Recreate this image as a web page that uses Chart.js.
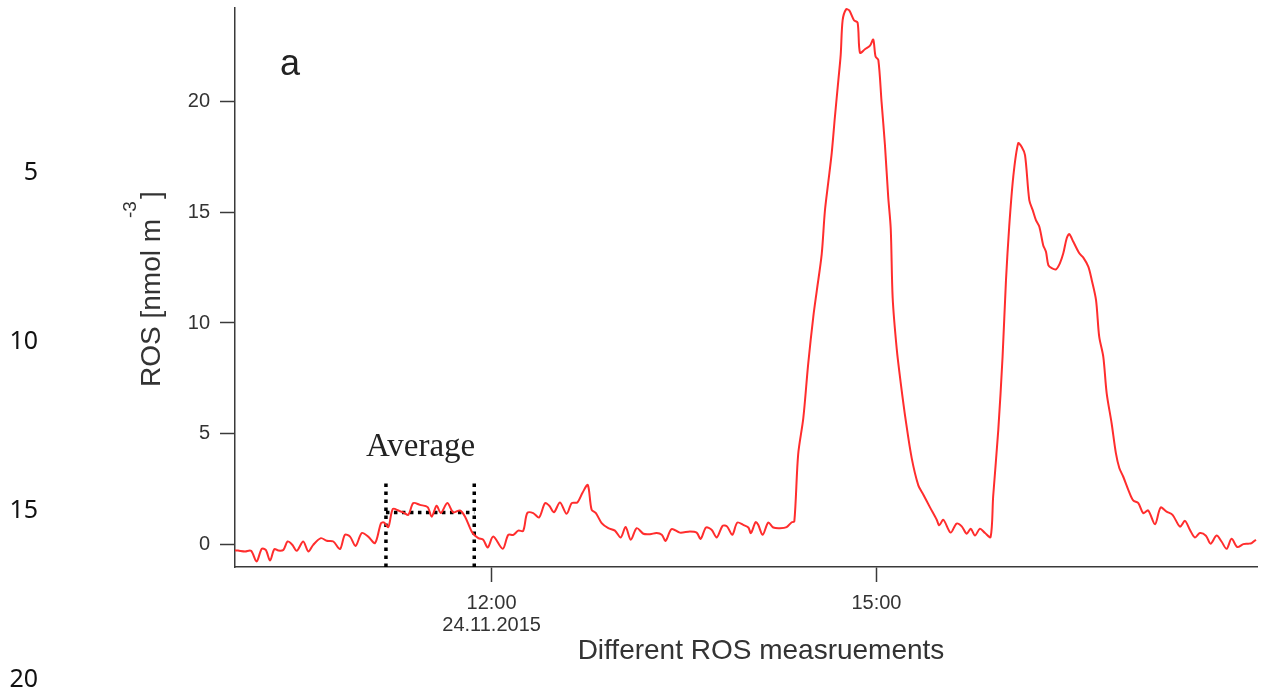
<!DOCTYPE html>
<html>
<head>
<meta charset="utf-8">
<script src="https://cdn.jsdelivr.net/npm/chart.js@4.4.1/dist/chart.umd.min.js"></script>
<style>
    html, body { margin: 0; padding: 0; background: #fff; }
    #wrap { position: relative; width: 1262px; height: 698px; }
</style>
</head>
<body>
<div id="wrap"><canvas id="rosChart" width="1262" height="698"></canvas></div>
<script>
// =======================
// ROS - serie temporal 24.11.2015
// =======================

// minutos desde las 10:00
const minutesSince10 = [
    0.0, 1.4, 4.7, 7.5, 10.1, 12.5, 14.4, 16.4, 18.4, 20.3, 22.6, 24.6, 26.8, 28.9, 31.9, 34.3, 36.6, 40.2, 42.9, 46.0,
    49.1, 51.4, 53.8, 56.4, 59.3, 62.3, 65.5, 68.3, 69.8, 71.7, 73.8, 76.4, 79.2, 81.1, 83.4, 86.5, 90.1, 92.0, 94.3, 96.3,
    99.3, 102.1, 105.2, 107.6, 111.0, 113.8, 116.1, 118.2, 120.8,
    125.2, 127.8, 130.2, 132.5, 134.8, 136.7, 139.5, 142.2, 145.0, 147.0, 149.2, 152.0, 155.1, 157.5, 160.1, 162.6, 165.0,
    166.8, 168.8, 171.5, 174.6, 177.7, 180.4, 182.7, 185.1, 187.9, 191.0, 194.1, 197.2, 199.6, 201.4, 204.2, 208.1, 212.8,
    215.9, 217.8, 220.3, 222.9, 225.3, 228.1, 230.2, 232.6, 234.9, 237.7, 240.1, 241.3, 243.5, 244.7, 246.8, 249.4, 251.8,
    254.9, 258.0, 260.4, 261.6,
    263.4, 265.8, 268.1, 270.5, 272.1, 274.4, 275.9, 277.5, 279.1, 280.6, 282.2, 283.3, 284.2, 285.8, 287.3, 289.5, 291.2,
    292.3, 294.6, 297.0, 298.5, 299.6, 300.9, 302.4, 304.0, 305.5, 306.7, 307.6, 309.5, 311.3, 313.8, 316.5, 319.6, 321.9,
    325.0, 328.2, 329.4, 331.3, 334.7, 337.5, 339.9, 342.2, 344.1, 346.1, 348.4,
    350.8, 353.4, 354.6, 357.0, 359.0, 360.6, 362.1, 364.0, 366.3, 367.9, 369.5, 371.5, 373.1, 374.6, 376.2, 378.0, 379.3,
    380.4, 382.0, 384.0, 385.8, 387.4, 389.0, 390.2, 392.1, 394.9, 396.7, 399.1, 400.7, 402.7, 404.2, 406.1, 407.7, 410.0,
    412.0, 413.6, 415.4, 417.8, 420.1, 422.5,
    424.8, 427.1, 430.3, 432.9, 435.7, 438.5, 442.0, 444.3, 446.6, 449.0, 451.3, 454.1, 456.3, 459.1, 461.4, 463.8, 466.1,
    468.8, 471.6, 473.9, 475.5, 477.5
];

// ROS [nmol m-3]
const rosValues = [
    -0.25, -0.26, -0.30, -0.27, -0.75, -0.18, -0.23, -0.71, -0.19, -0.26, -0.23, 0.15, 0.00, -0.27, 0.15, -0.30, 0.00, 0.30, 0.18, 0.15,
    -0.19, 0.45, 0.37, -0.05, 0.53, 0.37, 0.08, 0.98, 1.00, 0.80, 1.61, 1.55, 1.43, 1.35, 1.88, 1.80, 1.70, 1.27, 1.76, 1.43,
    1.88, 1.46, 1.55, 1.27, 0.55, 0.30, 0.23, -0.12, 0.37,
    -0.18, 0.45, 0.45, 0.64, 0.63, 1.43, 1.43, 1.23, 1.88, 1.76, 1.47, 1.91, 1.40, 1.88, 1.91, 2.36, 2.70,
    1.58, 1.43, 0.98, 0.75, 0.64, 0.33, 0.80, 0.23, 0.75, 0.50, 0.48, 0.53, 0.45, 0.18, 0.71, 0.55, 0.60,
    0.55, 0.27, 0.78, 0.68, 0.33, 0.86, 0.82, 0.45, 1.00, 0.90, 0.78, 0.53, 1.02, 0.90, 0.45, 1.00, 0.78,
    0.75, 0.80, 1.02, 1.05,
    4.08, 5.71, 8.17, 10.30, 11.45, 13.09, 15.05, 16.36, 17.67, 19.31, 20.95, 22.10, 23.65, 24.14, 24.09, 23.65, 23.54,
    22.18, 22.34, 22.50, 22.78, 22.01, 21.85, 19.97, 18.00, 15.70, 14.24, 11.13, 8.83, 7.35, 5.55, 3.91, 2.68, 2.27,
    1.70, 1.13, 0.88, 1.13, 0.55, 0.96, 0.83, 0.50, 0.72, 0.42, 0.72,
    0.53, 0.35, 2.18, 5.18, 8.48, 11.94, 14.34, 16.59, 18.10, 17.94, 17.57, 15.54, 15.09, 14.64, 14.34, 13.51, 13.21,
    12.61, 12.47, 12.42, 12.69, 13.14, 13.82, 14.01, 13.66, 13.14, 12.96, 12.54, 11.94, 11.04, 9.38, 8.48, 6.83, 5.48,
    4.13, 3.46, 3.08, 2.48, 2.00, 1.88,
    1.43, 1.55, 0.93, 1.68, 1.50, 1.35, 0.82, 1.08, 0.68, 0.33, 0.53, 0.41, 0.05, 0.42, 0.15, -0.18, 0.27,
    -0.10, 0.03, 0.05, 0.08, 0.23
];

const xTickMinutes = [120, 300];
const xTickLabels = [["12:00", "24.11.2015"], "15:00"];
const yTicks = [0, 5, 10, 15, 20];
const marginLineNumbers = ["5", "10", "15", "20"];

// ventana del promedio (minutos desde las 10:00)
const avgStart = 70.6;
const avgEnd = 111.9;
const avgTop = 2.9;

const Y_MIN = -1;
const Y_MAX = 24.2;
const X_MAX = 478;

const puntos = minutesSince10.map((m, i) => ({ x: m, y: rosValues[i] }));

// promedio dentro de la ventana
const enVentana = puntos.filter(p => p.x >= avgStart && p.x <= avgEnd);
const avgLevel = enVentana.reduce((s, p) => s + p.y, 0) / enVentana.length;

const AXIS_COLOR = "#3a3a3a";
const TEXT_COLOR = "#333";
const SANS = "'Liberation Sans', Arial, sans-serif";

const dotted = {
    borderColor: "#000",
    borderWidth: 3.5,
    borderDash: [3.5, 4.5],
    borderCapStyle: "butt",
    pointRadius: 0,
    tension: 0,
    fill: false
};

const textosPlugin = {
    id: "textos",
    afterDraw(chart) {
        const ctx = chart.ctx;
        const { left } = chart.chartArea;
        const xs = chart.scales.x;
        const ys = chart.scales.y;
        ctx.save();

        // letra del panel
        ctx.fillStyle = "#222";
        ctx.font = `36px ${SANS}`;
        ctx.textAlign = "left";
        ctx.textBaseline = "alphabetic";
        ctx.fillText("a", left + 45, 75);

        // etiqueta del promedio
        ctx.font = "33px 'Liberation Serif', 'Times New Roman', serif";
        ctx.fillText("Average", xs.getPixelForValue(avgStart) - 20, ys.getPixelForValue(avgTop) - 24);

        // titulo eje x
        ctx.fillStyle = TEXT_COLOR;
        ctx.font = `28px ${SANS}`;
        ctx.textAlign = "center";
        ctx.fillText("Different ROS measruements", 761, 659);

        // titulo eje y con superindice
        ctx.translate(160, 387);
        ctx.rotate(-Math.PI / 2);
        ctx.textAlign = "left";
        const base = "ROS [nmol m";
        ctx.font = `28px ${SANS}`;
        ctx.fillText(base, 0, 0);
        const w = ctx.measureText(base).width;
        ctx.font = `19px ${SANS}`;
        ctx.fillText("-3", w + 1, -24);
        const ws = ctx.measureText("-3").width;
        ctx.font = `28px ${SANS}`;
        ctx.fillText("]", w + ws + 3, 0);
        ctx.restore();

        // numeros de linea del margen
        ctx.save();
        ctx.fillStyle = "#111";
        ctx.font = "25px 'Noto Sans', 'Open Sans', sans-serif";
        ctx.textAlign = "right";
        ctx.textBaseline = "middle";
        marginLineNumbers.forEach((n, i) => {
            ctx.fillText(n, 38, 173 + i * 169);
        });
        ctx.restore();
    }
};

new Chart(document.getElementById("rosChart").getContext("2d"), {
    type: "line",
    data: {
        datasets: [
            {
                label: "ROS",
                data: puntos,
                borderColor: "rgb(255, 45, 45)",
                borderWidth: 2,
                pointRadius: 0,
                tension: 0.3,
                fill: false
            },
            { ...dotted, data: [{ x: avgStart, y: Y_MIN }, { x: avgStart, y: avgTop }] },
            { ...dotted, data: [{ x: avgEnd, y: Y_MIN }, { x: avgEnd, y: avgTop }] },
            { ...dotted, data: [{ x: avgStart, y: avgLevel }, { x: avgEnd, y: avgLevel }] }
        ]
    },
    options: {
        responsive: false,
        animation: false,
        devicePixelRatio: 1,
        layout: { padding: { left: 0, top: 8, right: 5, bottom: 0 } },
        plugins: {
            legend: { display: false },
            tooltip: { enabled: false }
        },
        scales: {
            x: {
                type: "linear",
                min: 0,
                max: X_MAX,
                afterBuildTicks: s => { s.ticks = xTickMinutes.map(v => ({ value: v })); },
                afterFit: s => { s.height = 131; s.paddingLeft = 0; s.paddingRight = 0; },
                ticks: {
                    autoSkip: false,
                    maxRotation: 0,
                    padding: 10,
                    color: TEXT_COLOR,
                    font: { family: SANS, size: 20, lineHeight: 1.1 },
                    callback: v => {
                        const i = xTickMinutes.indexOf(v);
                        return i >= 0 ? xTickLabels[i] : "";
                    }
                },
                grid: { drawOnChartArea: false, tickLength: 15, tickColor: AXIS_COLOR, tickWidth: 1.5 },
                border: { color: AXIS_COLOR, width: 1.5 }
            },
            y: {
                min: Y_MIN,
                max: Y_MAX,
                afterBuildTicks: s => { s.ticks = yTicks.map(v => ({ value: v })); },
                afterFit: s => { s.width = 235; s.paddingTop = 0; s.paddingBottom = 0; },
                ticks: {
                    padding: 10,
                    color: TEXT_COLOR,
                    font: { family: SANS, size: 20 }
                },
                grid: { drawOnChartArea: false, tickLength: 15, tickColor: AXIS_COLOR, tickWidth: 1.5 },
                border: { color: AXIS_COLOR, width: 1.5 }
            }
        }
    },
    plugins: [textosPlugin]
});
</script>
</body>
</html>
